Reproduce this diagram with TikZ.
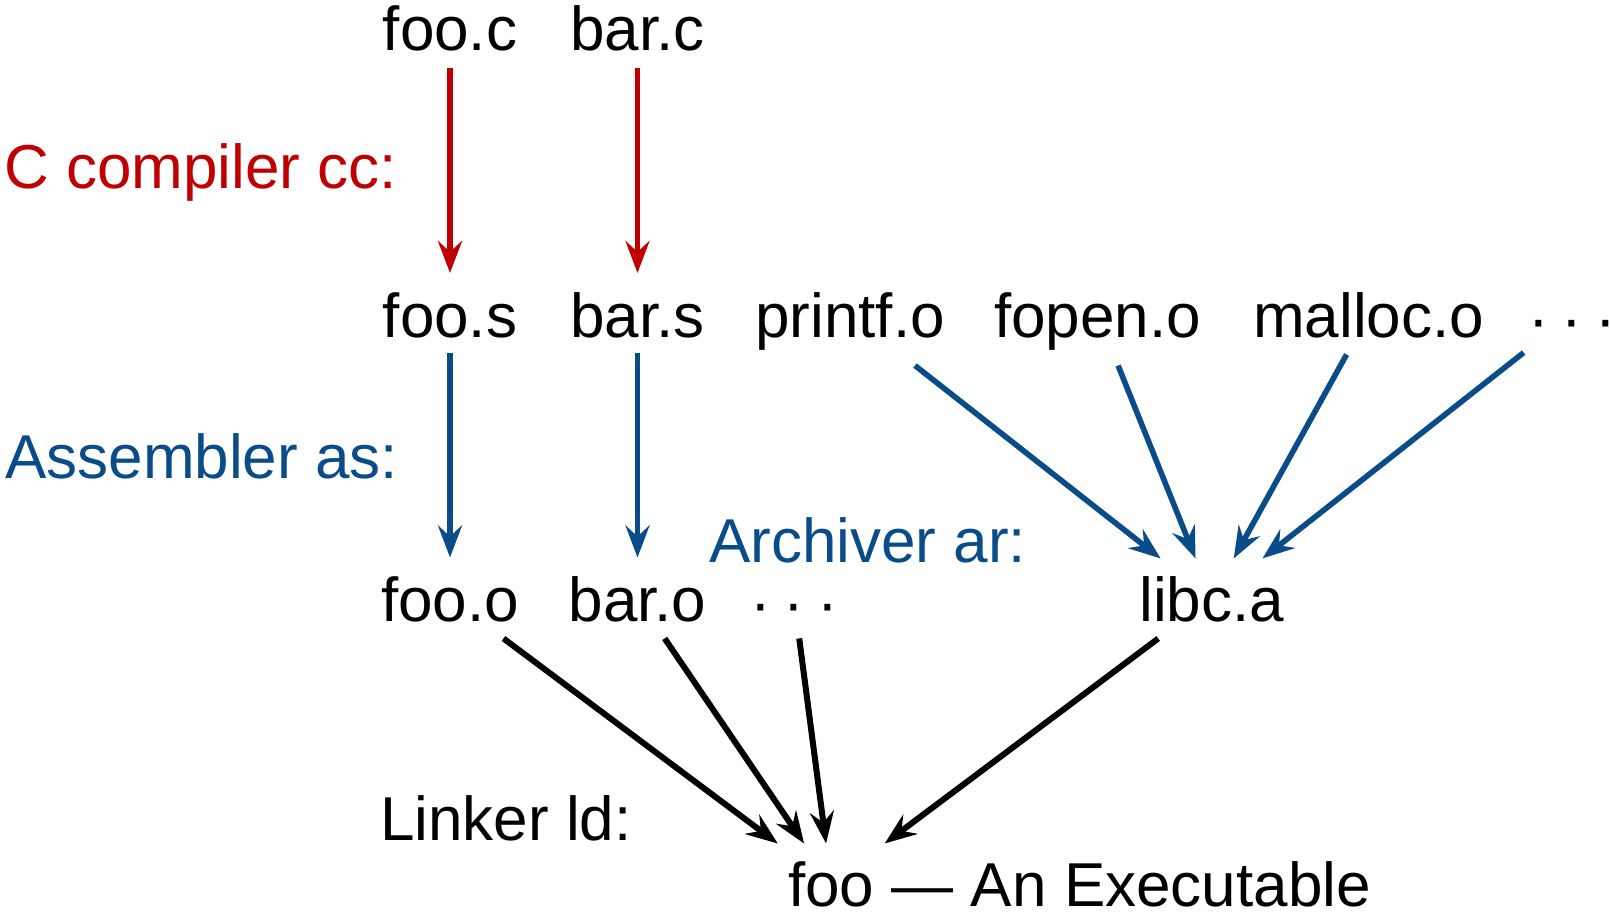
\documentclass[tikz,border=0pt]{standalone}
\usepackage{fontspec}
\setmainfont{Liberation Sans}
\usetikzlibrary{arrows.meta}
\definecolor{ccred}{RGB}{192,0,0}
\definecolor{asblue}{RGB}{10,76,138}
\newcommand\mydots{\raisebox{-3pt}{·\kern12.8pt·\kern12.8pt·}}
\begin{document}
\begin{tikzpicture}[x={(1pt,0)},y={(0,-1pt)},
  every node/.style={font=\fontsize{62pt}{70pt}\selectfont},
  file/.style={inner sep=0pt,text height=45pt,text depth=0pt,anchor=base},
  lbl/.style={inner sep=0pt,anchor=base west},
  arr/.style={line width=5.6pt,-{Stealth[length=32pt,width=24pt,inset=11pt]}},
  redarr/.style={arr,draw=ccred,fill=ccred},
  bluearr/.style={arr,draw=asblue,fill=asblue},
  blackarr/.style={arr,line width=6pt,draw=black,fill=black}]
\useasboundingbox (0,0) rectangle (1610,914);
% row 1
\node[file] (fooc) at (450,50) {foo.c};
\node[file] (barc) at (637.5,50) {bar.c};
% row 2
\node[file] (foos) at (450,337) {foo.s};
\node[file] (bars) at (637.5,337) {bar.s};
\node[file] (printf) at (850,337) {printf.o};
\node[file] (fopen) at (1097.6,337) {fopen.o};
\node[file] (malloc) at (1368.7,337) {malloc.o};
\node[file] (dotsA) at (1572,337) {\mydots};
% row 3
\node[file] (fooo) at (450,621) {foo.o};
\node[file] (baro) at (637.5,621) {bar.o};
\node[file] (dotsB) at (794,621) {\mydots};
\node[file] (libc) at (1211.6,621) {libc.a};
% row 4
\node[file,anchor=base west] (foo) at (788,906) {foo};
\node[lbl,xshift=17pt] (exe) at (foo.base east) {— An Executable};
% labels
\node[lbl,text=ccred] (cc) at (4,188) {C compiler cc:};
\node[lbl,text=asblue] (as) at (5,478) {Assembler as:};
\node[lbl,text=asblue] (ar) at (709,562) {Archiver ar:};
\node[lbl] (ld) at (380,840) {Linker ld:};
% compiler
\draw[redarr,shorten <=40.5pt,shorten >=41.5pt] (fooc.center) -- (foos.center);
\draw[redarr,shorten <=40.5pt,shorten >=41.5pt] (barc.center) -- (bars.center);
% assembler
\draw[bluearr,shorten <=38.5pt,shorten >=41pt] (foos.center) -- (fooo.center);
\draw[bluearr,shorten <=38.5pt,shorten >=41pt] (bars.center) -- (baro.center);
% archiver
\draw[bluearr,shorten <=82.6pt,shorten >=64.8pt] (printf.center) -- (libc.center);
\draw[bluearr,shorten <=55pt,shorten >=43.1pt] (fopen.center) -- (libc.center);
\draw[bluearr,shorten <=45.7pt,shorten >=45.7pt] (malloc.center) -- (libc.center);
\draw[bluearr,shorten <=61.6pt,shorten >=64.8pt] (dotsA.center) -- (libc.center);
% linker
\draw[blackarr,shorten <=66.8pt,shorten >=66.8pt] (fooo.center) -- (foo.center);
\draw[blackarr,shorten <=48.3pt,shorten >=48.3pt] (baro.center) -- (foo.center);
\draw[blackarr,shorten <=40.3pt,shorten >=40.3pt] (dotsB.center) -- (foo.center);
\draw[blackarr,shorten <=66.7pt,shorten >=66.7pt] (libc.center) -- (foo.center);
\end{tikzpicture}
\end{document}
